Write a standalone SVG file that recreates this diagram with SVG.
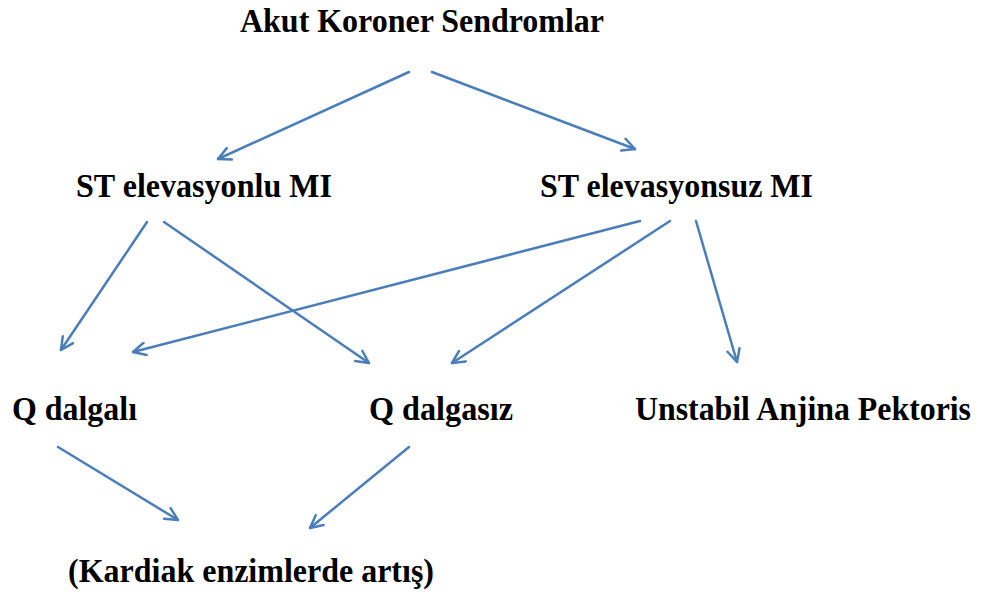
<svg xmlns="http://www.w3.org/2000/svg" width="984" height="594" viewBox="0 0 984 594">
<style>
.t{font-family:"Liberation Serif","Times New Roman",serif;font-weight:bold;font-size:33px;fill:#000}
.c{stroke:#4a7ebb;stroke-width:2.5;fill:none;stroke-linecap:round}
</style>
<defs>
<marker id="ah" viewBox="0 0 12 12" refX="11" refY="6" markerWidth="15" markerHeight="15" markerUnits="userSpaceOnUse" orient="auto">
<path d="M1,1 L11,6 L1,11" fill="none" stroke="#4a7ebb" stroke-width="2" stroke-linecap="round" stroke-linejoin="round"/>
</marker>
</defs>
<rect width="984" height="594" fill="#fff"/>
<g id="n-akut"><text class="t" x="240" y="32" textLength="364" lengthAdjust="spacingAndGlyphs">Akut Koroner Sendromlar</text></g>
<g id="n-stemi"><text class="t" x="76" y="197" textLength="256" lengthAdjust="spacingAndGlyphs">ST elevasyonlu MI</text></g>
<g id="n-nstemi"><text class="t" x="540" y="197" textLength="273" lengthAdjust="spacingAndGlyphs">ST elevasyonsuz MI</text></g>
<g id="n-qdalgali"><text class="t" x="12" y="420" textLength="125" lengthAdjust="spacingAndGlyphs">Q dalgalı</text></g>
<g id="n-qdalgasiz"><text class="t" x="369" y="420" textLength="144" lengthAdjust="spacingAndGlyphs">Q dalgasız</text></g>
<g id="n-uap"><text class="t" x="635" y="420" textLength="336" lengthAdjust="spacingAndGlyphs">Unstabil Anjina Pektoris</text></g>
<g id="n-enzim"><text class="t" x="68" y="582" textLength="366" lengthAdjust="spacingAndGlyphs">(Kardiak enzimlerde artış)</text></g>
<g id="connectors">
<line class="c" x1="409" y1="72" x2="218" y2="159" marker-end="url(#ah)"/>
<line class="c" x1="432" y1="72" x2="635" y2="149" marker-end="url(#ah)"/>
<line class="c" x1="147" y1="222" x2="61" y2="350" marker-end="url(#ah)"/>
<line class="c" x1="164" y1="222" x2="369" y2="363" marker-end="url(#ah)"/>
<line class="c" x1="640" y1="221" x2="133" y2="352" marker-end="url(#ah)"/>
<line class="c" x1="670" y1="221" x2="452" y2="363" marker-end="url(#ah)"/>
<line class="c" x1="696" y1="221" x2="737" y2="362" marker-end="url(#ah)"/>
<line class="c" x1="58" y1="447" x2="178" y2="520" marker-end="url(#ah)"/>
<line class="c" x1="409" y1="447" x2="310" y2="528" marker-end="url(#ah)"/>
</g>
</svg>
